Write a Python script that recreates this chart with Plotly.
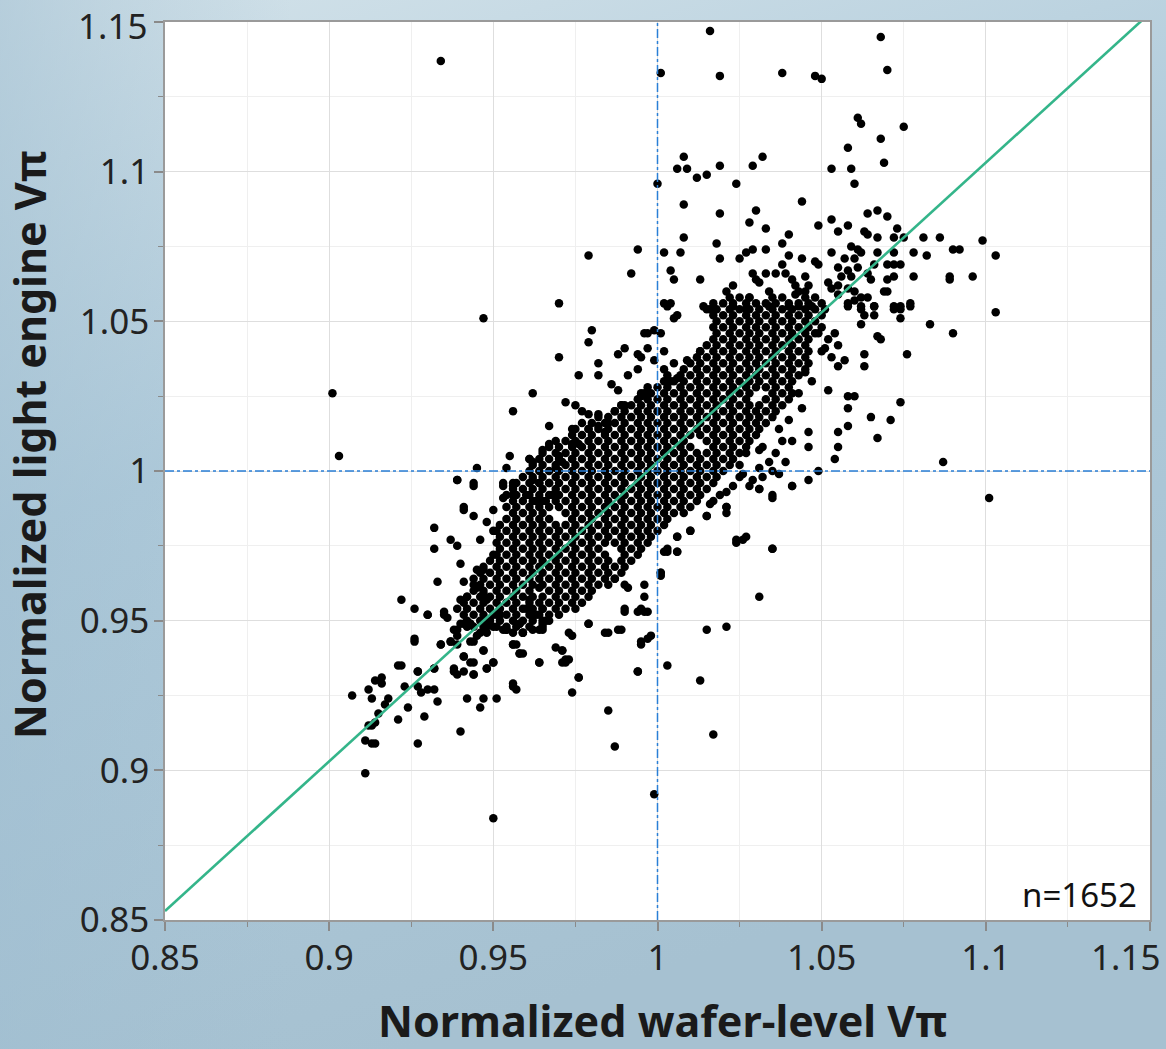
import plotly.graph_objects as go
import urllib.parse

# ---------------- data ----------------
outliers = [(0.934,1.137),(0.901,1.026),(0.903,1.005),(0.950,0.884),(0.911,0.899),
            (0.999,0.892),(1.101,0.991),(1.087,1.003),(1.017,0.912),(1.013,0.930),
            (0.985,0.920),(0.987,0.908),(0.970,1.056),(0.947,1.051),(0.979,1.072),
            (0.994,1.074),(0.992,1.066),(1.103,1.053),(1.103,1.072)]

upper_right = [(1.016,1.147),(1.068,1.145),(1.070,1.134),(1.001,1.133),(1.019,1.132),
    (1.038,1.133),(1.048,1.132),(1.050,1.131),(1.061,1.118),(1.062,1.116),(1.075,1.115),
    (1.058,1.108),(1.068,1.111),(1.069,1.103),(1.053,1.101),(1.059,1.101),(1.060,1.096),
    (1.008,1.105),(1.006,1.101),(1.009,1.101),(1.000,1.096),(1.012,1.098),(1.015,1.099),
    (1.019,1.102),(1.024,1.096),(1.029,1.102),(1.032,1.105),(1.008,1.089),(1.019,1.086),
    (1.030,1.087),(1.028,1.083),(1.033,1.081),(1.040,1.079),(1.044,1.090),(1.049,1.082),
    (1.053,1.084),(1.055,1.080),(1.058,1.082),(1.063,1.080),(1.064,1.079),(1.064,1.086),
    (1.067,1.087),(1.070,1.085),(1.073,1.081),(1.072,1.078),(1.075,1.078),(1.067,1.078),
    (1.008,1.078),(1.018,1.076),(1.002,1.073),(1.007,1.073),(1.019,1.071),(1.025,1.071),
    (1.027,1.073),(1.029,1.074),(1.033,1.074),(1.038,1.076),(1.040,1.072),(1.044,1.071),
    (1.048,1.070),(1.049,1.069),(1.053,1.073),(1.081,1.078),(1.086,1.078),(1.090,1.074),
    (1.092,1.074),(1.099,1.077),(1.078,1.073),(1.082,1.072),(1.072,1.073),(1.067,1.073),
    (1.059,1.075),(1.061,1.074),(1.062,1.073),(1.057,1.071),(1.060,1.071),(1.055,1.068),
    (1.066,1.069),(1.070,1.069),(1.072,1.069),(1.074,1.069),(1.058,1.067),(1.061,1.068),
    (1.056,1.065),(1.059,1.065),(1.064,1.066),(1.065,1.064),(1.078,1.065),(1.089,1.065),
    (1.089,1.064),(1.096,1.065),(1.070,1.064),(1.072,1.065),(1.069,1.060),(1.070,1.060),
    (1.004,1.067),(1.005,1.064),(1.013,1.064),(1.029,1.066),(1.030,1.064),(1.031,1.063),
    (1.033,1.066),(1.036,1.066),(1.038,1.069),(1.039,1.066),(1.041,1.064),(1.023,1.062),
    (1.021,1.060),(1.028,1.058),(1.034,1.060),(1.042,1.062),(1.045,1.065),(1.046,1.062),
    (1.043,1.060),(1.045,1.060),(1.042,1.059),(1.052,1.063),(1.053,1.061),(1.055,1.062),
    (1.055,1.059),(1.058,1.061),(1.060,1.060),(1.062,1.058),(1.064,1.058),(1.003,1.055),
    (1.014,1.055),(1.016,1.054),(1.023,1.055),(1.027,1.054),(1.034,1.055),(1.040,1.055),
    (1.043,1.055),(1.047,1.055),(1.058,1.055),(1.062,1.055),(1.066,1.055),(1.072,1.054),
    (1.074,1.055),(1.077,1.055)]

right_mid = [(1.083,1.049),(1.090,1.046),(1.076,1.039),(1.063,1.039),(1.063,1.035),
    (1.074,1.023),(1.065,1.018),(1.071,1.017),(1.067,1.011),(1.058,1.015),(1.055,1.013),
    (1.055,1.008),(1.054,1.004),(1.052,1.027),(1.058,1.025),(1.060,1.025),(1.058,1.021),
    (1.049,1.000),(1.046,1.013),(1.046,1.008),(1.046,0.997),(1.041,1.010),(1.041,0.995),
    (1.035,0.991),(1.035,0.974),(1.024,0.976),(1.026,0.977),(1.047,1.030),(1.055,1.042),
    (1.057,1.037),(1.055,1.035),(1.067,1.045),(1.068,1.044),(1.062,1.049),(1.066,1.052),
    (1.063,1.052),(1.066,1.055),(1.062,1.054),(1.072,1.055),(1.074,1.054),(1.077,1.056),
    (1.074,1.051),(1.058,1.056),(1.060,1.057),(1.052,1.044),(1.054,1.046),(1.049,1.046),
    (1.050,1.048),(1.051,1.041),(1.053,1.038),(1.050,1.040),(1.038,1.010),(1.037,1.014),
    (1.036,1.006),(1.031,1.001),(1.035,1.000),(1.031,1.007),(1.032,1.008),(1.001,1.046),
    (1.002,1.040),(1.005,1.051),(1.006,1.052),(1.002,1.056),(1.004,1.056),(1.013,1.040),
    (1.009,1.037),(1.005,1.036),(1.002,1.034),(1.004,1.030),(1.006,1.031),(1.006,0.978),
    (1.002,0.973),(1.006,0.973),(1.001,0.965),(1.015,0.985),(1.021,0.988),(1.027,1.006),
    (1.031,0.994),(1.028,0.995),(1.010,0.980),(1.019,0.992),(1.017,0.990),(1.016,0.989),
    (1.021,0.986),(1.024,0.977),(1.027,0.978),(1.003,0.973),(1.001,0.966),(1.044,1.021),
    (1.043,1.026),(1.045,1.033),(1.040,1.017),(1.039,1.003),(1.025,0.998),(1.023,0.995)]

upper_left = [(0.980,1.047),(0.979,1.043),(0.970,1.038),(0.962,1.026),(0.956,1.020),
    (0.976,1.032),(0.982,1.036),(0.982,1.032),(0.988,1.039),(0.990,1.041),(0.986,1.029),
    (0.988,1.027),(0.991,1.032),(0.994,1.034),(0.994,1.039),(0.995,1.038),(0.997,1.041),
    (0.996,1.046),(0.997,1.046),(0.999,1.047),(0.999,1.037),(0.972,1.023),(0.975,1.022),
    (0.977,1.020),(0.979,1.019),(0.982,1.019),(0.995,1.025),(0.996,1.026),(0.987,1.020),
    (0.989,1.022),(0.990,1.022),(0.967,1.015),(0.967,1.009),(0.965,1.007),(0.974,1.014),
    (0.974,1.009),(0.976,1.009),(0.955,1.005),(0.961,1.004),(0.962,1.003),(0.945,1.001),
    (0.954,1.001),(0.939,0.997),(0.944,0.995),(0.953,0.995),(0.956,0.995),(0.953,0.991),
    (0.956,0.992),(0.941,0.987),(0.950,0.987),(0.970,1.005),(0.971,1.003),(0.974,1.004),
    (0.979,1.014),(0.982,1.015),(0.984,1.013),(0.985,1.016),(0.969,1.001),(0.962,0.997),
    (0.964,0.996),(0.967,0.996),(0.960,0.992),(0.963,0.990),(0.966,0.990),(0.968,0.992)]

lower_left = [(0.922,0.957),(0.926,0.954),(0.930,0.952),(0.935,0.953),(0.936,0.951),
    (0.926,0.944),(0.907,0.925),(0.912,0.927),(0.914,0.930),(0.916,0.931),(0.916,0.929),
    (0.913,0.924),(0.921,0.935),(0.927,0.933),(0.923,0.928),(0.927,0.928),(0.918,0.924),
    (0.917,0.922),(0.924,0.921),(0.928,0.926),(0.930,0.927),(0.932,0.927),(0.932,0.934),
    (0.933,0.923),(0.929,0.918),(0.921,0.917),(0.915,0.919),(0.914,0.916),(0.912,0.915),
    (0.913,0.915),(0.911,0.910),(0.913,0.909),(0.914,0.909),(0.927,0.909),(0.940,0.913),
    (0.934,0.942),(0.937,0.943),(0.939,0.942),(0.938,0.947),(0.940,0.949),(0.942,0.948),
    (0.943,0.949),(0.941,0.938),(0.943,0.936),(0.944,0.932),(0.938,0.934),(0.941,0.933),
    (0.947,0.940),(0.943,0.943),(0.948,0.934),(0.950,0.936),(0.942,0.924),(0.946,0.921),
    (0.947,0.924),(0.951,0.924),(0.956,0.928),(0.957,0.927),(0.946,0.946),(0.947,0.949),
    (0.950,0.948),(0.952,0.952),(0.954,0.947),(0.957,0.942),(0.959,0.939),(0.958,0.949),
    (0.959,0.946),(0.964,0.936),(0.964,0.947),(0.965,0.949),(0.967,0.950),(0.971,0.940),
    (0.972,0.936),(0.973,0.937),(0.974,0.945),(0.976,0.931),(0.974,0.926),(0.979,0.949),
    (0.985,0.946),(0.989,0.947),(0.994,0.933),(0.995,0.943),(0.998,0.945),(0.990,0.954),
    (0.995,0.954),(0.997,0.953),(0.932,0.981),(0.932,0.974),(0.937,0.977),(0.939,0.975),
    (0.941,0.988),(0.944,0.985),(0.940,0.969),(0.933,0.963),(0.945,0.967),(0.947,0.967),
    (0.941,0.963),(0.944,0.962),(0.945,0.961),(0.942,0.958),(0.940,0.957),(0.947,0.959),
    (0.948,0.957),(0.930,0.952),(0.935,0.952),(0.941,0.949),(0.943,0.949),(0.947,0.950),
    (0.948,0.948),(0.950,0.952),(0.939,0.947),(0.939,0.945),(0.953,0.947),(0.926,0.943),
    (0.934,0.942),(0.937,0.943),(0.944,0.943),(0.945,0.945),(0.948,0.946),(0.956,0.946),
    (0.959,0.946),(0.941,0.938),(0.944,0.936),(0.947,0.940),(0.950,0.936),(0.956,0.942),
    (0.958,0.939),(0.922,0.935),(0.927,0.933),(0.932,0.934),(0.938,0.933),(0.939,0.932),
    (0.944,0.932),(0.948,0.934),(0.969,0.941),(0.965,0.954),(0.963,0.952),(0.965,0.948),
    (0.962,0.947),(0.960,0.954),(0.961,0.957),(0.964,0.961),(0.939,0.997),(0.944,0.996),
    (0.953,0.996),(0.956,0.996),(0.946,0.977),(0.950,0.972),(0.950,0.980),(0.948,0.983)]

lower_mid = [(1.041,0.995),(1.035,0.992),(1.031,0.994),(1.032,0.998),(1.035,0.974),
    (1.031,0.958),(1.021,0.948),(1.015,0.947),(1.003,0.935),(0.994,0.933),(0.997,0.944),
    (0.995,0.942),(1.001,0.966),(1.006,0.973),(1.006,0.978),(1.003,0.974),(1.015,0.985),
    (1.021,0.988),(1.021,0.993),(1.010,0.980),(0.990,0.953),(0.994,0.953),(0.996,0.953),
    (0.996,0.958),(0.996,0.962),(0.988,0.947),(0.984,0.946),(0.979,0.949),(0.973,0.946),
    (0.971,0.940),(0.972,0.937),(0.971,0.936),(0.964,0.936),(0.976,0.931),(0.956,0.929),
    (0.958,0.939),(0.956,0.942),(0.954,0.947),(0.958,0.949),(0.959,0.946),(0.965,0.947),
    (0.966,0.950),(0.990,0.962),(0.991,0.961),(0.987,0.964),(1.026,0.999),(1.025,1.002),
    (1.029,0.997),(1.034,1.003),(1.037,0.999)]

# dense core (points merge into a blob): wafer-level values per light-engine row
core_y = [1.058,1.056,1.054,1.052,1.050,1.048,1.046,1.044,1.042,1.040,1.038,1.036,1.034,
          1.032,1.030,1.028,1.026,1.024,1.022,1.020,1.018,1.016,1.014,1.012,1.010,1.008,
          1.006,1.004,1.002,1.000,0.998,0.996,0.994,0.992,0.990,0.988,0.986,0.984,0.982,
          0.980,0.978,0.976,0.974,0.972,0.970,0.968,0.966,0.964,0.962,0.960,0.958,0.956,
          0.954,0.952,0.950,0.948]
core_x = [
    [1.022,1.025,1.028,1.035,1.038,1.045,1.048],
    [1.017,1.020,1.023,1.027,1.030,1.033,1.036,1.040,1.043,1.046,1.050],
    [1.015,1.018,1.022,1.025,1.028,1.031,1.035,1.038,1.041,1.045,1.048,1.051],
    [1.017,1.020,1.023,1.027,1.030,1.033,1.036,1.040,1.043,1.046,1.050],
    [1.018,1.022,1.025,1.028,1.031,1.035,1.038,1.041,1.045,1.048],
    [1.017,1.020,1.023,1.027,1.030,1.033,1.036,1.040,1.043,1.046],
    [1.018,1.022,1.025,1.028,1.031,1.035,1.038,1.041,1.045,1.048],
    [1.017,1.020,1.023,1.027,1.030,1.033,1.036,1.040,1.043,1.046],
    [1.015,1.018,1.022,1.025,1.028,1.031,1.035,1.038,1.041,1.045],
    [1.013,1.017,1.020,1.023,1.027,1.030,1.033,1.036,1.040,1.043,1.046],
    [1.012,1.015,1.018,1.022,1.025,1.028,1.031,1.035,1.038,1.041,1.045],
    [1.010,1.013,1.017,1.020,1.023,1.027,1.030,1.033,1.036,1.040,1.043,1.046],
    [1.008,1.012,1.015,1.018,1.022,1.025,1.028,1.031,1.035,1.038,1.041,1.045],
    [1.003,1.007,1.010,1.013,1.017,1.020,1.023,1.027,1.030,1.033,1.036,1.040,1.043],
    [1.002,1.005,1.008,1.012,1.015,1.018,1.022,1.025,1.028,1.031,1.035,1.038,1.041],
    [0.997,1.000,1.003,1.007,1.010,1.013,1.017,1.020,1.023,1.027,1.030,1.033,1.036,1.040],
    [0.995,0.998,1.002,1.005,1.008,1.012,1.015,1.018,1.022,1.025,1.028,1.035,1.038,1.041],
    [0.994,0.997,1.000,1.003,1.007,1.010,1.013,1.017,1.020,1.023,1.027,1.033,1.036,1.040],
    [0.989,0.992,0.995,0.998,1.002,1.005,1.008,1.012,1.015,1.018,1.022,1.025,1.028,1.031,1.035,1.038],
    [0.987,0.990,0.994,0.997,1.000,1.003,1.007,1.010,1.013,1.017,1.020,1.023,1.027,1.030,1.033,1.036],
    [0.982,0.985,0.989,0.992,0.995,0.998,1.002,1.005,1.008,1.012,1.015,1.018,1.022,1.025,1.028,1.031,1.035],
    [0.977,0.980,0.984,0.987,0.990,0.994,0.997,1.000,1.003,1.007,1.010,1.013,1.017,1.020,1.023,1.027,1.030,1.033],
    [0.975,0.979,0.982,0.985,0.989,0.992,0.995,0.998,1.002,1.005,1.008,1.012,1.015,1.018,1.022,1.025,1.028,1.031],
    [0.974,0.977,0.980,0.984,0.987,0.990,0.994,0.997,1.000,1.003,1.007,1.010,1.013,1.017,1.020,1.023,1.027,1.030],
    [0.969,0.972,0.975,0.979,0.982,0.985,0.989,0.992,0.995,0.998,1.002,1.005,1.008,1.015,1.018,1.022,1.025,1.028],
    [0.967,0.970,0.974,0.977,0.980,0.984,0.987,0.990,0.994,0.997,1.000,1.003,1.007,1.010,1.017,1.020,1.023,1.027],
    [0.965,0.969,0.972,0.975,0.979,0.982,0.985,0.989,0.992,0.995,0.998,1.002,1.005,1.008,1.012,1.015,1.018,1.022,1.025],
    [0.961,0.964,0.967,0.970,0.974,0.977,0.980,0.984,0.987,0.990,0.994,0.997,1.000,1.003,1.007,1.010,1.013,1.017,1.020,1.023],
    [0.962,0.965,0.969,0.972,0.975,0.979,0.982,0.985,0.989,0.992,0.995,0.998,1.002,1.005,1.008,1.012,1.015,1.018,1.022],
    [0.961,0.964,0.967,0.970,0.974,0.977,0.980,0.984,0.987,0.990,0.994,0.997,1.000,1.003,1.007,1.010,1.013,1.017,1.020],
    [0.959,0.962,0.965,0.969,0.972,0.975,0.979,0.982,0.985,0.989,0.992,0.995,0.998,1.002,1.005,1.008,1.012,1.015,1.018],
    [0.957,0.961,0.964,0.967,0.970,0.974,0.977,0.980,0.984,0.987,0.990,0.994,0.997,1.000,1.003,1.007,1.010,1.013,1.017],
    [0.956,0.959,0.962,0.965,0.969,0.972,0.975,0.979,0.982,0.985,0.989,0.992,0.995,0.998,1.002,1.005,1.008,1.012,1.015],
    [0.954,0.957,0.961,0.964,0.967,0.970,0.974,0.977,0.980,0.984,0.987,0.990,0.994,0.997,1.000,1.003,1.007,1.010,1.013],
    [0.956,0.959,0.962,0.965,0.969,0.972,0.975,0.979,0.982,0.985,0.989,0.992,0.995,0.998,1.002,1.005,1.008,1.012],
    [0.954,0.957,0.961,0.964,0.967,0.970,0.974,0.977,0.980,0.984,0.987,0.990,0.994,0.997,1.000,1.003,1.007,1.010],
    [0.956,0.959,0.962,0.965,0.972,0.975,0.979,0.982,0.985,0.989,0.992,0.995,0.998,1.002,1.005,1.008],
    [0.954,0.957,0.961,0.964,0.967,0.974,0.977,0.980,0.984,0.987,0.990,0.994,0.997,1.000,1.003],
    [0.952,0.956,0.959,0.962,0.965,0.969,0.972,0.975,0.979,0.982,0.985,0.989,0.992,0.995,0.998,1.002],
    [0.951,0.954,0.957,0.961,0.964,0.967,0.970,0.974,0.977,0.980,0.984,0.987,0.990,0.994,0.997,1.000],
    [0.952,0.956,0.959,0.962,0.965,0.969,0.972,0.975,0.979,0.982,0.985,0.989,0.992,0.995,0.998],
    [0.951,0.954,0.957,0.961,0.964,0.967,0.970,0.974,0.977,0.980,0.984,0.987,0.990,0.994,0.997],
    [0.952,0.956,0.959,0.962,0.965,0.969,0.972,0.975,0.979,0.982,0.989,0.992,0.995],
    [0.951,0.954,0.957,0.961,0.964,0.967,0.970,0.974,0.977,0.980,0.984,0.990,0.994],
    [0.949,0.952,0.956,0.959,0.962,0.965,0.969,0.972,0.975,0.979,0.982,0.985,0.989,0.992],
    [0.947,0.951,0.954,0.957,0.961,0.964,0.967,0.970,0.974,0.977,0.980,0.984,0.987,0.990],
    [0.946,0.949,0.952,0.956,0.959,0.962,0.965,0.969,0.972,0.975,0.979,0.982,0.985,0.989],
    [0.944,0.947,0.951,0.954,0.957,0.961,0.964,0.967,0.970,0.974,0.977,0.980,0.984,0.987],
    [0.946,0.949,0.952,0.956,0.959,0.962,0.965,0.969,0.972,0.975,0.979,0.982,0.985],
    [0.944,0.947,0.951,0.954,0.957,0.961,0.967,0.970,0.974,0.977,0.980],
    [0.942,0.946,0.949,0.952,0.956,0.959,0.962,0.965,0.969,0.972,0.975,0.979],
    [0.941,0.944,0.947,0.951,0.954,0.957,0.961,0.964,0.967,0.970,0.974,0.977],
    [0.939,0.942,0.946,0.949,0.952,0.956,0.959,0.962,0.965,0.969,0.972,0.975],
    [0.941,0.944,0.947,0.951,0.954,0.957,0.961,0.964,0.967,0.970],
    [0.942,0.946,0.949,0.952,0.956,0.959,0.962,0.965],
    [0.944,0.947,0.951,0.954,0.957,0.961],
]

fit_slope = 1.0
fit_intercept = 0.003
ref_value = 1.0
sample_count = 1652

tick_values = [0.85, 0.9, 0.95, 1.0, 1.05, 1.1, 1.15]
tick_labels = ["0.85", "0.9", "0.95", "1", "1.05", "1.1", "1.15"]
axis_range = [0.85, 1.15]

# ---------------- assemble ----------------
wafer, engine = [], []
for grp in (outliers, upper_right, right_mid, upper_left, lower_left, lower_mid):
    for a, b in grp:
        wafer.append(a)
        engine.append(b)
for yv, row in zip(core_y, core_x):
    for a in row:
        wafer.append(a)
        engine.append(yv)

W, H = 1166, 1049
ML, MR, MT, MB = 165, 16, 22, 129
PW, PH = W - ML - MR, H - MT - MB

svg = (f'<svg xmlns="http://www.w3.org/2000/svg" width="{W}" height="{H}">'
       '<defs><linearGradient id="g" x1="0" y1="0" x2="0.35" y2="1">'
       '<stop offset="0" stop-color="#d4e3ea"/><stop offset="0.45" stop-color="#b0cbdb"/>'
       '<stop offset="1" stop-color="#a6c1d1"/></linearGradient>'
       '<linearGradient id="h" x1="0" y1="0" x2="1" y2="0">'
       '<stop offset="0" stop-color="#9ebdd0" stop-opacity="0.55"/>'
       '<stop offset="0.25" stop-color="#9ebdd0" stop-opacity="0"/></linearGradient></defs>'
       f'<rect width="{W}" height="{H}" fill="url(#g)"/>'
       f'<rect width="{W}" height="{H}" fill="url(#h)"/>'
       f'<rect x="{ML}" y="{MT}" width="{PW}" height="{PH}" fill="#ffffff"/></svg>')
bg_uri = "data:image/svg+xml;charset=utf-8," + urllib.parse.quote(svg)

fig = go.Figure()
fig.add_trace(go.Scatter(x=wafer, y=engine, mode="markers",
                         marker=dict(color="black", size=8.5, line=dict(width=0)),
                         hoverinfo="skip", showlegend=False))
fig.add_trace(go.Scatter(x=axis_range,
                         y=[fit_slope * v + fit_intercept for v in axis_range],
                         mode="lines", line=dict(color="#34b58a", width=2.6),
                         hoverinfo="skip", showlegend=False))

line_style = dict(color="#2a7fd6", width=1.5, dash="dashdot")
fig.add_shape(type="line", xref="x", yref="y", x0=ref_value, x1=ref_value,
              y0=axis_range[0], y1=axis_range[1], line=line_style, layer="above")
fig.add_shape(type="line", xref="x", yref="y", y0=ref_value, y1=ref_value,
              x0=axis_range[0], x1=axis_range[1], line=line_style, layer="above")

tick_font = dict(family="Noto Sans, Open Sans, sans-serif", size=35, color="#222222")
axis_common = dict(range=axis_range, automargin=False,
                   tickmode="array", tickvals=tick_values, ticklabeloverflow="allow",
                   ticks="outside", ticklen=9, tickwidth=1.5,
                   tickcolor="#8a8a8a", showline=True, linecolor="#9a9a9a", linewidth=1.5,
                   mirror=True, showgrid=True, gridcolor="#dedede", gridwidth=1.3,
                   zeroline=False, tickfont=tick_font,
                   minor=dict(dtick=0.025, tick0=0.85, ticklen=5, tickwidth=1.2,
                              tickcolor="#8a8a8a", ticks="outside",
                              showgrid=True, gridcolor="#efefef", gridwidth=1.2))

# the last labels sit at the page edges; they are nudged inside, as in the reference
edge_ticktext = tick_labels[:-1] + [""]

title_font = dict(family="Noto Sans, Open Sans, sans-serif", size=43,
                  color="#1a1a1a", weight="bold")
fig.update_layout(
    width=W, height=H,
    margin=dict(l=ML, r=MR, t=MT, b=MB, autoexpand=False),
    paper_bgcolor="#b5cdda", plot_bgcolor="rgba(0,0,0,0)",
    xaxis=dict(**axis_common, ticktext=edge_ticktext, ticklabelstandoff=-3),
    yaxis=dict(**axis_common, ticktext=edge_ticktext, ticklabelstandoff=-2),
    images=[dict(source=bg_uri, xref="paper", yref="paper",
                 x=-ML / PW, y=1 + MT / PH, sizex=W / PW, sizey=H / PH,
                 sizing="stretch", xanchor="left", yanchor="top", layer="below")],
    annotations=[
        dict(text=tick_labels[-1], xref="paper", yref="paper",
             x=(1162 - ML) / PW, y=-(957 - 920) / PH, xanchor="right", yanchor="middle",
             showarrow=False, font=tick_font),
        dict(text=tick_labels[-1], xref="paper", yref="paper",
             x=(149 - ML) / PW, y=1 + MT / PH, xanchor="right", yanchor="top",
             showarrow=False, font=tick_font),
        dict(text="Normalized wafer-level Vπ", xref="paper", yref="paper",
             x=(662 - ML) / PW, y=-(1020 - 920) / PH, xanchor="center", yanchor="middle",
             showarrow=False, font=title_font),
        dict(text="Normalized light engine Vπ", xref="paper", yref="paper",
             x=(30 - ML) / PW, y=(920 - 445) / PH, xanchor="center", yanchor="middle",
             textangle=-90, showarrow=False, font=title_font),
        dict(text=f"n={sample_count}", xref="paper", yref="paper",
             x=(1139 - ML) / PW, y=(920 - 894) / PH, xanchor="right", yanchor="middle",
             showarrow=False,
             font=dict(family="Noto Sans, Open Sans, sans-serif", size=33, color="#111111")),
    ],
)

fig.write_html("out.html")
